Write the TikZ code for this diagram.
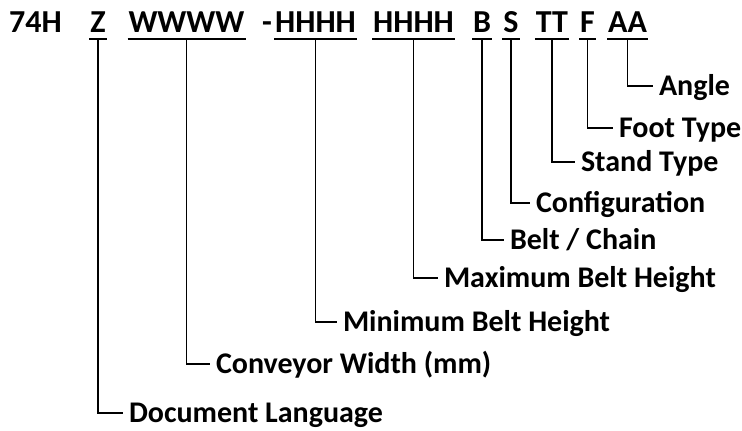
\documentclass[tikz,border=0pt]{standalone}
\usepackage{fontspec}
\setmainfont{Carlito}
\begin{document}
\begin{tikzpicture}[x=1pt,y=1pt,
  tpart/.style={font=\fontsize{32}{36}\selectfont\bfseries, inner xsep=1pt, inner ysep=0pt, text depth=0pt, anchor=base, outer sep=0pt},
  tplain/.style={font=\fontsize{32}{36}\selectfont\bfseries, inner sep=0pt, anchor=base},
  lab/.style={font=\fontsize{30}{34}\selectfont\bfseries, inner xsep=6pt, inner ysep=0pt, text height=19pt, text depth=0pt, anchor=west, outer sep=0pt},
  uline/.style={line width=1.8pt},
  conn/.style={line width=1.6pt}]
\useasboundingbox (0,0) rectangle (742,431);
% title parts
\node[tplain, anchor=base west] (pre) at (9,398) {74H};
\node[tplain] (dash) at (267,398) {-};
\node[tpart] (z) at (98,398) {Z};
\node[tpart] (w) at (186.5,398) {WWWW};
\node[tpart] (h1) at (315.5,398) {HHHH};
\node[tpart] (h2) at (413.5,398) {HHHH};
\node[tpart] (b) at (482,398) {B};
\node[tpart] (s) at (511,398) {S};
\node[tpart] (tt) at (552,398) {TT};
\node[tpart] (f) at (587.5,398) {F};
\node[tpart] (aa) at (627.5,398) {AA};
% underlines
\foreach \n in {z,w,h1,h2,b,s,tt,f,aa}{
  \draw[uline] ([yshift=-6pt]\n.base west) -- ([yshift=-6pt]\n.base east);
}
% labels
\node[lab] (angle) at (653,345) {Angle};
\node[lab] (foot) at (613,303) {Foot Type};
\node[lab] (stand) at (575,269) {Stand Type};
\node[lab] (conf) at (530,228) {Configuration};
\node[lab] (belt) at (504,191) {Belt / Chain};
\node[lab] (max) at (438,153) {Maximum Belt Height};
\node[lab] (min) at (337,109) {Minimum Belt Height};
\node[lab] (conv) at (210,67) {Conveyor Width (mm)};
\node[lab] (doc) at (123,18) {Document Language};
% connectors
\draw[conn] ([yshift=-6pt]aa.base) |- (angle.west);
\draw[conn] ([yshift=-6pt]f.base) |- (foot.west);
\draw[conn] ([yshift=-6pt]tt.base) |- (stand.west);
\draw[conn] ([yshift=-6pt]s.base) |- (conf.west);
\draw[conn] ([yshift=-6pt]b.base) |- (belt.west);
\draw[conn] ([yshift=-6pt]h2.base) |- (max.west);
\draw[conn] ([yshift=-6pt]h1.base) |- (min.west);
\draw[conn] ([yshift=-6pt]w.base) |- (conv.west);
\draw[conn] ([yshift=-6pt]z.base) |- (doc.west);
\end{tikzpicture}
\end{document}
